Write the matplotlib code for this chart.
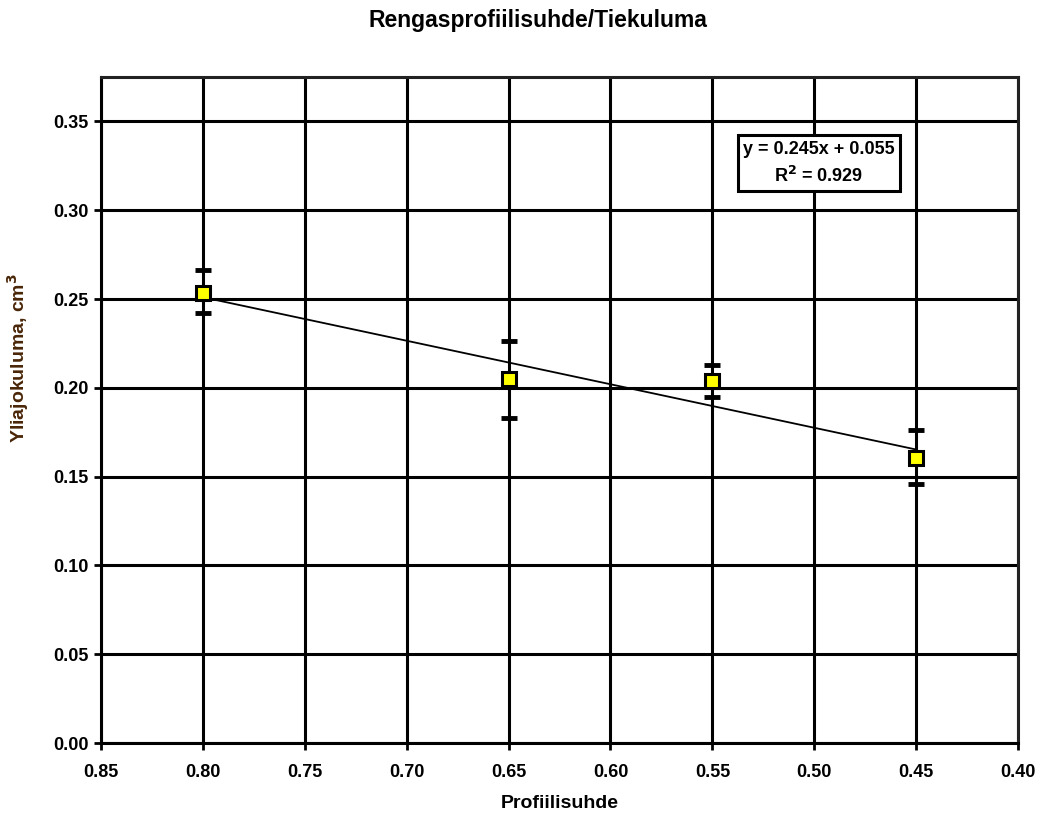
import numpy as np
import matplotlib.pyplot as plt

plt.rcParams['font.family'] = ['Liberation Sans', 'DejaVu Sans']
plt.rcParams['font.weight'] = 'bold'

# measured points
suhde = [0.80, 0.65, 0.55, 0.45]
kuluma = [0.2536, 0.2048, 0.2037, 0.1604]
virhe_ala = [0.0112, 0.0220, 0.0091, 0.0146]
virhe_yla = [0.0125, 0.0215, 0.0089, 0.0158]

# linear trend from the chart label
k, b = 0.245, 0.055
r2 = 0.929

fig = plt.figure(figsize=(10.41, 8.14), dpi=100)
ax = fig.add_axes([0.097, 0.0872, 0.881, 0.8182])

x_fit = np.array([max(suhde), min(suhde)])
ax.plot(x_fit, k*x_fit + b, color='black', lw=1.3, zorder=3)

ax.errorbar(suhde, kuluma, yerr=[virhe_ala, virhe_yla], fmt='none',
            ecolor='black', elinewidth=2, capsize=5.5, capthick=3.5, zorder=4)
ax.plot(suhde, kuluma, 's', ms=9.5, mfc='#ffff00', mec='black', mew=2.2, zorder=5)

ax.set_xlim(0.85, 0.40)
ax.set_ylim(0, 0.375)
ax.set_xticks(np.arange(0.85, 0.399, -0.05))
ax.set_yticks(np.arange(0, 0.351, 0.05))
ax.xaxis.set_major_formatter(plt.FormatStrFormatter('%.2f'))
ax.yaxis.set_major_formatter(plt.FormatStrFormatter('%.2f'))
ax.tick_params(direction='out', length=5, width=2, labelsize=13)
ax.tick_params(axis='x', pad=10)
ax.tick_params(axis='y', pad=4)
ax.grid(True, color='black', lw=2.2)
ax.set_axisbelow(True)

for s in ['left', 'bottom']:
    ax.spines[s].set_linewidth(2.2)
for s in ['top', 'right']:
    ax.spines[s].set_linewidth(2.2)
    ax.spines[s].set_color('#222222')

fig.text(538/1041, 1 - 20/814, 'Rengasprofiilisuhde/Tiekuluma', fontsize=16.5,
         fontweight='bold', ha='center', va='center')

ax.set_xlabel('Profiilisuhde', fontsize=14, fontweight='bold')
ax.xaxis.set_label_coords(0.5, -(803 - 743)/666)
ax.xaxis.label.set_va('center')

ax.set_ylabel('Yliajokuluma, cm$^\\mathbf{3}$', fontsize=14, fontweight='bold',
              color='#4a2608')
ax.yaxis.set_label_coords(-(101 - 18)/917, (743 - 358)/666)
ax.yaxis.label.set_va('center')
ax.yaxis.label.set_ha('center')
ax.yaxis.label.set_rotation_mode('anchor')

ax.text(0.4977, 0.3264, 'y = %.3fx + %.3f\nR$^\\mathbf{2}$ = %.3f' % (k, b, r2),
        ha='center', va='center', fontsize=13, fontweight='bold', linespacing=1.5,
        bbox=dict(boxstyle='square,pad=0.3', fc='white', ec='black', lw=2.2), zorder=6)

fig.savefig('out.png', dpi=100)
